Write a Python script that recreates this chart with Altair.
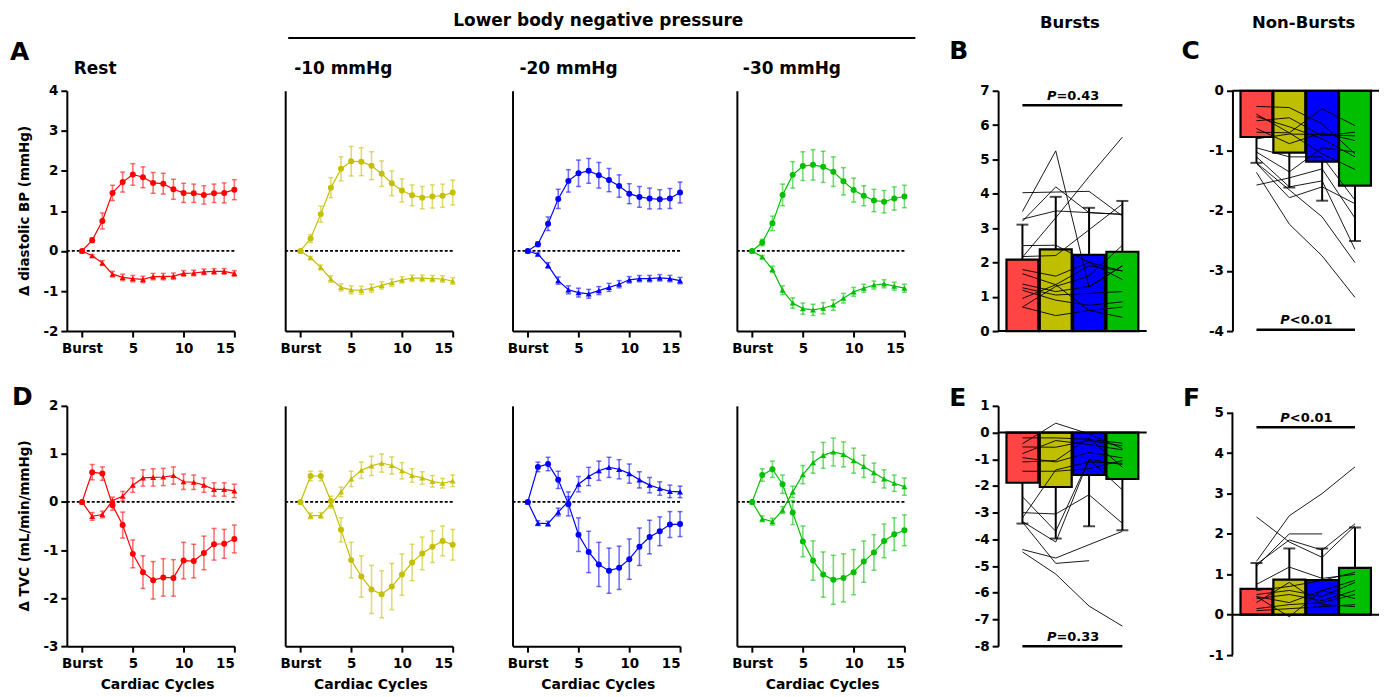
import altair as alt
import pandas as pd

FONT = "DejaVu Sans"
CYCLES = list(range(16))
CONDITIONS = ["Rest", "-10 mmHg", "-20 mmHg", "-30 mmHg"]
LINE_COLORS = ["#FF0000", "#C4C000", "#0000FF", "#00BF00"]

# ---- Diastolic BP (top row): burst (circles) / non-burst (triangles), mean and SEM
DBP_BURST_MEAN = [
    [0, 0.27, 0.75, 1.45, 1.72, 1.91, 1.84, 1.70, 1.68, 1.54, 1.45, 1.44, 1.40, 1.44, 1.45, 1.53],
    [0, 0.31, 0.92, 1.58, 2.05, 2.24, 2.23, 2.13, 1.93, 1.69, 1.51, 1.39, 1.33, 1.36, 1.38, 1.46],
    [0, 0.17, 0.68, 1.30, 1.75, 1.94, 2.00, 1.89, 1.77, 1.62, 1.43, 1.35, 1.31, 1.29, 1.31, 1.46],
    [0, 0.21, 0.69, 1.40, 1.90, 2.12, 2.15, 2.10, 1.98, 1.74, 1.52, 1.38, 1.26, 1.23, 1.31, 1.36],
]
DBP_BURST_SEM = [
    [0, 0.06, 0.20, 0.19, 0.25, 0.27, 0.26, 0.26, 0.26, 0.25, 0.24, 0.23, 0.23, 0.23, 0.25, 0.25],
    [0, 0.10, 0.20, 0.25, 0.30, 0.37, 0.35, 0.35, 0.32, 0.31, 0.29, 0.26, 0.28, 0.29, 0.29, 0.31],
    [0, 0.06, 0.17, 0.24, 0.28, 0.33, 0.31, 0.32, 0.29, 0.28, 0.25, 0.26, 0.26, 0.24, 0.25, 0.26],
    [0, 0.08, 0.18, 0.27, 0.33, 0.36, 0.38, 0.39, 0.37, 0.34, 0.30, 0.25, 0.28, 0.28, 0.29, 0.28],
]
DBP_NON_MEAN = [
    [0, -0.12, -0.30, -0.58, -0.66, -0.69, -0.71, -0.64, -0.64, -0.63, -0.56, -0.55, -0.52, -0.51, -0.51, -0.56],
    [0, -0.17, -0.41, -0.70, -0.91, -0.97, -0.98, -0.93, -0.86, -0.79, -0.72, -0.68, -0.68, -0.69, -0.70, -0.75],
    [0, -0.08, -0.36, -0.74, -0.97, -1.04, -1.07, -0.99, -0.91, -0.83, -0.72, -0.69, -0.69, -0.67, -0.69, -0.74],
    [0, -0.15, -0.46, -0.98, -1.30, -1.44, -1.47, -1.43, -1.35, -1.18, -1.02, -0.93, -0.85, -0.82, -0.88, -0.93],
]
DBP_NON_SEM = [
    [0, 0.03, 0.06, 0.07, 0.08, 0.08, 0.08, 0.08, 0.08, 0.08, 0.07, 0.07, 0.07, 0.07, 0.07, 0.07],
    [0, 0.03, 0.06, 0.08, 0.09, 0.10, 0.10, 0.10, 0.09, 0.09, 0.08, 0.08, 0.08, 0.08, 0.08, 0.08],
    [0, 0.03, 0.07, 0.09, 0.10, 0.11, 0.11, 0.10, 0.10, 0.09, 0.08, 0.08, 0.08, 0.08, 0.08, 0.08],
    [0, 0.04, 0.08, 0.11, 0.13, 0.14, 0.14, 0.14, 0.13, 0.12, 0.11, 0.10, 0.10, 0.10, 0.10, 0.10],
]

# ---- TVC (bottom row)
TVC_BURST_MEAN = [
    [0, 0.62, 0.59, -0.07, -0.48, -1.08, -1.46, -1.63, -1.57, -1.58, -1.22, -1.23, -1.06, -0.88, -0.87, -0.77],
    [0, 0.54, 0.54, 0.02, -0.58, -1.21, -1.55, -1.82, -1.92, -1.76, -1.51, -1.26, -1.07, -0.93, -0.81, -0.89],
    [0, 0.73, 0.79, 0.46, -0.04, -0.68, -1.04, -1.30, -1.43, -1.37, -1.19, -0.93, -0.73, -0.61, -0.47, -0.46],
    [0, 0.56, 0.68, 0.37, -0.22, -0.82, -1.22, -1.51, -1.62, -1.58, -1.46, -1.24, -1.05, -0.81, -0.67, -0.59],
]
TVC_BURST_SEM = [
    [0, 0.16, 0.14, 0.10, 0.27, 0.29, 0.34, 0.39, 0.39, 0.38, 0.38, 0.35, 0.35, 0.33, 0.30, 0.29],
    [0, 0.10, 0.10, 0.10, 0.25, 0.37, 0.43, 0.50, 0.49, 0.48, 0.43, 0.38, 0.34, 0.33, 0.31, 0.32],
    [0, 0.10, 0.14, 0.18, 0.25, 0.35, 0.43, 0.46, 0.47, 0.45, 0.42, 0.39, 0.35, 0.30, 0.27, 0.26],
    [0, 0.13, 0.17, 0.19, 0.25, 0.32, 0.41, 0.47, 0.51, 0.50, 0.47, 0.43, 0.37, 0.35, 0.34, 0.32],
]
TVC_NON_MEAN = [
    [0, -0.30, -0.26, 0.03, 0.12, 0.35, 0.50, 0.51, 0.52, 0.55, 0.42, 0.41, 0.35, 0.26, 0.26, 0.23],
    [0, -0.29, -0.28, -0.05, 0.21, 0.48, 0.66, 0.75, 0.81, 0.76, 0.65, 0.55, 0.50, 0.43, 0.39, 0.44],
    [0, -0.44, -0.45, -0.21, 0.01, 0.37, 0.53, 0.65, 0.72, 0.68, 0.59, 0.46, 0.35, 0.28, 0.22, 0.21],
    [0, -0.35, -0.41, -0.17, 0.21, 0.57, 0.82, 0.97, 1.04, 0.99, 0.86, 0.74, 0.61, 0.48, 0.39, 0.32],
]
TVC_NON_SEM = [
    [0, 0.08, 0.07, 0.07, 0.10, 0.15, 0.17, 0.18, 0.18, 0.18, 0.16, 0.15, 0.15, 0.14, 0.14, 0.14],
    [0, 0.06, 0.06, 0.08, 0.10, 0.16, 0.17, 0.20, 0.19, 0.18, 0.17, 0.14, 0.13, 0.12, 0.10, 0.12],
    [0, 0.05, 0.05, 0.08, 0.10, 0.16, 0.19, 0.20, 0.21, 0.20, 0.20, 0.17, 0.16, 0.14, 0.13, 0.12],
    [0, 0.06, 0.07, 0.07, 0.12, 0.19, 0.22, 0.27, 0.29, 0.26, 0.26, 0.23, 0.20, 0.19, 0.17, 0.18],
]

# ---- Bar panels (mean, SD, individual subjects)
BAR_POS = [1, 2, 3, 4]
BAR_COLORS_LIGHT = ["#FF4444", "#BFBF00", "#0000FF", "#00BF00"]
BAR_COLORS = ["#FF0000", "#BFBF00", "#0000FF", "#00BF00"]

B_MEAN = [2.08, 2.38, 2.22, 2.31]
B_SD = [1.02, 1.53, 1.37, 1.48]
B_SUBJ = [
    [4.03, 4.05, 4.07, 3.35], [3.48, 5.25, 1.28, 1.90], [3.20, 4.20, 3.45, 3.40],
    [3.26, 3.50, 3.45, 3.40], [2.15, 3.30, 4.50, 5.65], [2.49, 2.50, 2.00, 1.75],
    [2.17, 2.20, 2.95, 3.70], [1.79, 1.60, 2.00, 1.50], [1.67, 1.35, 1.90, 1.75],
    [1.37, 1.15, 1.30, 1.90], [1.26, 1.05, 1.10, 1.15], [1.19, 0.90, 0.75, 0.85],
    [0.95, 1.35, 0.60, 0.70], [0.70, 0.45, 0.60, 0.40], [0.70, 1.30, 1.60, 2.50],
]
C_MEAN = [-0.77, -1.03, -1.18, -1.58]
C_SD = [0.43, 0.58, 0.65, 0.92]
C_SUBJ = [
    [-0.26, -0.28, -0.55, -1.05], [-0.39, -0.70, -0.30, -0.58], [-0.43, -0.60, -0.80, -1.10],
    [-0.50, -0.45, -0.75, -0.69], [-0.63, -0.88, -0.70, -0.83], [-0.69, -0.70, -1.05, -1.31],
    [-0.80, -0.72, -0.73, -0.75], [-1.02, -1.35, -0.95, -1.02], [-1.10, -1.60, -1.50, -2.64],
    [-1.21, -1.78, -1.60, -1.88], [-1.36, -2.22, -2.75, -3.44], [-1.57, -1.45, -1.30, -2.12],
    [-1.20, -1.65, -2.10, -2.86], [-0.95, -1.10, -1.10, -1.82],
]
E_MEAN = [-1.88, -2.04, -1.59, -1.74]
E_SD = [1.53, 1.93, 1.92, 1.92]
E_SUBJ = [
    [-0.42, 0.35, -0.05, -0.60], [-0.20, -0.20, -0.25, -0.40], [-0.54, -0.55, -0.30, -0.50],
    [-0.79, -0.30, -0.45, -0.65], [-0.94, -1.10, -0.75, -0.95], [-1.10, -1.05, -0.20, -1.30],
    [-1.45, -1.45, -1.35, -1.05], [-2.40, -3.70, -1.00, -2.15], [-3.00, -3.05, -2.33, -3.40],
    [-3.20, -1.40, -1.10, -1.15], [-3.33, -4.10, -1.00, -1.20], [-3.35, -4.90, -4.80, None],
    [-4.38, -4.70, -4.20, -3.70], [-4.47, -5.30, -6.50, -7.25],
]
F_MEAN = [0.64, 0.87, 0.86, 1.16]
F_SD = [0.64, 0.77, 0.78, 1.00]
F_SUBJ = [
    [1.32, 2.45, 3.00, 3.66], [2.42, 1.80, 1.42, 2.20], [1.20, 2.00, 2.00, None],
    [1.25, 1.85, 1.60, 2.25], [0.75, 1.18, 0.90, 1.00], [0.60, 0.70, 0.85, 1.05],
    [0.50, 0.60, 0.45, 0.80], [0.45, 0.30, 0.60, 0.85], [0.40, 0.50, 0.35, 0.60],
    [0.15, 0.25, 0.30, 0.50], [0.10, 0.15, 0.20, 0.25], [0.45, -0.05, 0.60, 0.40],
    [0.30, 0.80, 0.25, 0.20],
]

MINUS_EXPR = "datum.value < 0 ? '-' + abs(datum.value) : datum.label"


def label(text, x, y, size, align="left", baseline="alphabetic", angle=0, style="normal"):
    return alt.Chart(pd.DataFrame({"t": [text]})).mark_text(
        font=FONT, fontSize=size, fontWeight="bold", fontStyle=style, align=align,
        baseline=baseline, angle=angle, color="black"
    ).encode(x=alt.value(x), y=alt.value(y), text="t:N")


def line_panel(bm, bs, nm, ns, color, ydomain, yticks, show_y, annotations, height=241, width=168):
    rows = []
    for i, c in enumerate(CYCLES):
        rows.append({"cycle": c, "mean": bm[i], "sem": bs[i], "series": "Burst"})
    for i, c in enumerate(CYCLES):
        rows.append({"cycle": c, "mean": nm[i], "sem": ns[i], "series": "Non-burst"})
    df = pd.DataFrame(rows)
    xs = alt.Scale(domain=[-1.5, 15], nice=False, zero=False)
    ys = alt.Scale(domain=ydomain, nice=False, zero=False)
    xax = alt.Axis(values=[0, 5, 10, 15], title=None, labelFontSize=13.5,
                   labelExpr="datum.value == 0 ? 'Burst' : datum.label", labelPadding=4)
    if show_y:
        yax = alt.Axis(values=yticks, title=None, labelExpr=MINUS_EXPR)
    else:
        yax = alt.Axis(values=yticks, title=None, labels=False, ticks=False)

    def X():
        return alt.X("cycle:Q", scale=xs, axis=xax)

    def Y(f):
        return alt.Y(f, scale=ys, axis=yax)

    base = alt.Chart(df).transform_calculate(lo="datum.mean - datum.sem", hi="datum.mean + datum.sem")
    zero = alt.Chart(pd.DataFrame({"z": [0]})).mark_rule(
        color="black", strokeDash=[3, 2], strokeWidth=1.8).encode(y=Y("z:Q"))
    err = base.mark_rule(color=color, opacity=0.55, strokeWidth=1.6).encode(x=X(), y=Y("lo:Q"), y2="hi:Q")
    cap_lo = base.mark_tick(color=color, opacity=0.55, orient="horizontal", size=5, thickness=1.5).encode(x=X(), y=Y("lo:Q"))
    cap_hi = base.mark_tick(color=color, opacity=0.55, orient="horizontal", size=5, thickness=1.5).encode(x=X(), y=Y("hi:Q"))
    line = base.mark_line(color=color, strokeWidth=1.2).encode(x=X(), y=Y("mean:Q"), detail="series:N")
    pts = base.mark_point(filled=True, color=color, size=36, opacity=1).encode(
        x=X(), y=Y("mean:Q"),
        shape=alt.Shape("series:N", scale=alt.Scale(domain=["Burst", "Non-burst"], range=["circle", "triangle-up"]), legend=None))
    layers = [zero, err, cap_lo, cap_hi, line, pts] + annotations
    return alt.layer(*layers).properties(width=width, height=height)


def bar_panel(means, sds, subj, colors, direction, ydomain, yticks, ptext_main, ptext_rest, pline_y, ptext_y,
              annotations, height=241, width=149, custom_axis=None):
    xs = alt.Scale(domain=[0.42, 4.58], nice=False, zero=False)
    ys = alt.Scale(domain=ydomain, nice=False, zero=False)
    if custom_axis:
        yax = alt.Axis(values=yticks, title=None, domain=False, labelExpr=MINUS_EXPR)
    else:
        yax = alt.Axis(values=yticks, title=None, labelExpr=MINUS_EXPR)

    def X(f):
        return alt.X(f, scale=xs, axis=None)

    def Y(f):
        return alt.Y(f, scale=ys, axis=yax)

    bdf = pd.DataFrame({"pos": BAR_POS, "mean": means, "sd": sds})
    bdf["end"] = bdf["mean"] + direction * bdf["sd"]
    srows = []
    for k, s in enumerate(subj):
        for j, v in enumerate(s):
            if v is not None:
                srows.append({"subject": k, "pos": BAR_POS[j], "value": v})
    sdf = pd.DataFrame(srows)

    bars = alt.Chart(bdf).mark_bar(size=32, stroke="black", strokeWidth=2.2, orient="vertical").encode(
        x=X("pos:Q"), y=Y("mean:Q"), y2=alt.datum(0),
        color=alt.Color("pos:N", scale=alt.Scale(domain=BAR_POS, range=colors), legend=None))
    zero = alt.Chart(pd.DataFrame({"z": [0]})).mark_rule(color="black", strokeWidth=2).encode(y=Y("z:Q"))
    err = alt.Chart(bdf).mark_rule(color="black", strokeWidth=2).encode(x=X("pos:Q"), y=Y("mean:Q"), y2="end:Q")
    cap = alt.Chart(bdf).mark_tick(color="black", orient="horizontal", size=12, thickness=2).encode(x=X("pos:Q"), y=Y("end:Q"))
    subj_lines = alt.Chart(sdf).mark_line(color="black", strokeWidth=0.9).encode(
        x=X("pos:Q"), y=Y("value:Q"), detail="subject:N")
    pdf = pd.DataFrame({"x1": [1], "x2": [4], "y": [pline_y], "xc": [2.5], "ty": [ptext_y]})
    pline = alt.Chart(pdf).mark_rule(color="black", strokeWidth=2.5).encode(x=X("x1:Q"), x2="x2:Q", y=Y("y:Q"))
    ptxt1 = alt.Chart(pdf).mark_text(font=FONT, fontSize=13, fontWeight="bold", fontStyle="italic",
                                     align="right", dx=-16, color="black").encode(
        x=X("xc:Q"), y=Y("ty:Q"), text=alt.value(ptext_main))
    ptxt2 = alt.Chart(pdf).mark_text(font=FONT, fontSize=13, fontWeight="bold",
                                     align="left", dx=-16, color="black").encode(
        x=X("xc:Q"), y=Y("ty:Q"), text=alt.value(ptext_rest))
    layers = [bars, subj_lines, err, cap, zero, pline, ptxt1, ptxt2]
    if custom_axis:
        adf = pd.DataFrame({"a": [custom_axis[0]], "b": [custom_axis[1]]})
        layers.append(alt.Chart(adf).mark_rule(color="black", strokeWidth=2).encode(
            x=alt.value(0), y=Y("a:Q"), y2="b:Q"))
    layers += annotations
    return alt.layer(*layers).properties(width=width, height=height)


def spacer(w):
    return alt.Chart(pd.DataFrame({"a": [0]})).mark_point(opacity=0).encode(
        x=alt.X("a:Q", axis=None), y=alt.Y("a:Q", axis=None)).properties(width=w, height=10)


TOP_TICKS = [-2, -1, 0, 1, 2, 3, 4]
BOT_TICKS = [-3, -2, -1, 0, 1, 2]

top_ann = [
    [label("A", -57, -31, 25), label("Rest", 7, -17, 17),
     label("Δ diastolic BP (mmHg)", -42, 120.5, 13.5, align="center", baseline="middle", angle=270)],
    [label("-10 mmHg", 9, -17, 17), label("Lower body negative pressure", 314, -65, 17, align="center"),
     alt.Chart(pd.DataFrame({"a": [0]})).mark_rule(color="black", strokeWidth=2).encode(
         x=alt.value(3), x2=alt.value(632), y=alt.value(-53))],
    [label("-20 mmHg", 7, -17, 17)],
    [label("-30 mmHg", 6, -17, 17)],
]
bot_ann = [
    [label("D", -55, -1, 25),
     label("Δ TVC (mL/min/mmHg)", -42, 120.5, 13.5, align="center", baseline="middle", angle=270),
     label("Cardiac Cycles", 91, 284, 14, align="center")],
    [label("Cardiac Cycles", 86, 284, 14, align="center")],
    [label("Cardiac Cycles", 86, 284, 14, align="center")],
    [label("Cardiac Cycles", 86, 284, 14, align="center")],
]

top_panels = [
    line_panel(DBP_BURST_MEAN[i], DBP_BURST_SEM[i], DBP_NON_MEAN[i], DBP_NON_SEM[i], LINE_COLORS[i],
               [-2, 4], TOP_TICKS, i == 0, top_ann[i])
    for i in range(4)
]
bot_panels = [
    line_panel(TVC_BURST_MEAN[i], TVC_BURST_SEM[i], TVC_NON_MEAN[i], TVC_NON_SEM[i], LINE_COLORS[i],
               [-3, 2], BOT_TICKS, i == 0, bot_ann[i])
    for i in range(4)
]

panel_b = bar_panel(B_MEAN, B_SD, B_SUBJ, BAR_COLORS_LIGHT, 1, [0, 7], list(range(0, 8)), "P", "=0.43", 6.58, 6.85,
                    [label("B", -49, -32, 25), label("Bursts", 72, -63, 16.5, align="center")], width=149)
panel_c = bar_panel(C_MEAN, C_SD, C_SUBJ, BAR_COLORS, -1, [-4, 0], [-4, -3, -2, -1, 0], "P", "<0.01", -3.98, -3.82,
                    [label("C", -51, -32, 25), label("Non-Bursts", 71.5, -63, 16.5, align="center")], width=147)
panel_e = bar_panel(E_MEAN, E_SD, E_SUBJ, BAR_COLORS_LIGHT, -1, [-8, 1], list(range(-8, 2)), "P", "=0.33", -8.0, -7.67,
                    [label("E", -49, 0, 25)], width=149)
panel_f = bar_panel(F_MEAN, F_SD, F_SUBJ, BAR_COLORS, 1, [-1, 5.17], list(range(-1, 6)), "P", "<0.01", 4.64, 4.88,
                    [label("F", -49.5, 0, 25)], width=147, height=250, custom_axis=(-1, 5))

GAPS = [51, 60, 57, 94, 86]
row1 = [top_panels[0], spacer(GAPS[0]), top_panels[1], spacer(GAPS[1]), top_panels[2], spacer(GAPS[2]),
        top_panels[3], spacer(GAPS[3]), panel_b, spacer(GAPS[4]), panel_c]
row2 = [bot_panels[0], spacer(GAPS[0]), bot_panels[1], spacer(GAPS[1]), bot_panels[2], spacer(GAPS[2]),
        bot_panels[3], spacer(GAPS[3]), panel_e, spacer(GAPS[4]), panel_f]

chart = alt.ConcatChart(
    concat=row1 + row2, columns=11, spacing={"row": 75, "column": 0},
    bounds="flush", align="each",
    padding={"left": 2, "top": 3, "right": 5, "bottom": 5},
).configure_view(stroke=None).configure_axis(
    labelFont=FONT, labelFontSize=13.5, labelFontWeight="bold", labelColor="black",
    domainColor="black", domainWidth=2, tickColor="black", tickWidth=2, tickSize=6,
    grid=False, labelPadding=3,
)

chart.save("out.html", embed_options={"renderer": "svg", "actions": False})
